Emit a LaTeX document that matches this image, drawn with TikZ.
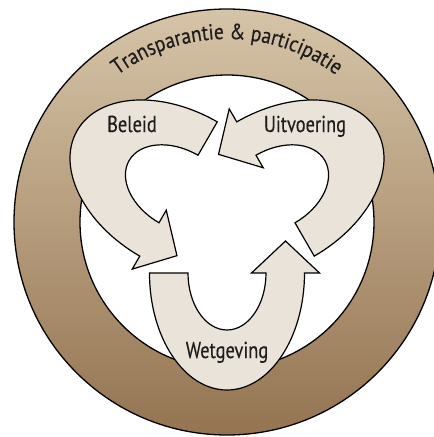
\documentclass[tikz,border=0pt]{standalone}
\usepackage{fontspec}
\usepackage{xcolor}
\usepackage{tikz}
\usetikzlibrary{decorations.text}
\newfontfamily\cyclefont[FakeStretch=0.8,FakeBold=0.3]{PT Sans}
\newfontfamily\ringface[FakeStretch=0.88,FakeBold=0.4]{PT Sans}
\newcommand{\ringfont}{\ringface\fontsize{22}{22}\selectfont}
\definecolor{ringtop}{RGB}{214,196,168}
\definecolor{ringbottom}{RGB}{148,116,81}
\definecolor{arrowfill}{RGB}{233,227,217}
\definecolor{inkcol}{RGB}{30,28,28}
\tikzset{
  ring edge/.style={draw=black,line width=1.3pt},
  cycle arrow/.style={draw=black,fill=arrowfill,line width=1.2pt,line join=miter},
  cycle label/.style={font=\cyclefont\fontsize{23}{23}\selectfont,text=inkcol,anchor=base,inner sep=0pt}
}

\begin{document}
\begin{tikzpicture}[x=1pt,y=1pt]
  \useasboundingbox (-227,-215) rectangle (207,222);
  \clip (-227,-215) rectangle (207,222);
  % ring
  \shade[top color=ringtop,bottom color=ringbottom] (0,0) circle[radius=213];
  \fill[white] (0,0) circle[radius=147];
  \draw[ring edge] (0,0) circle[radius=213];
  \draw[ring edge] (0,0) circle[radius=147];
  \path[decorate,decoration={text along path,text align=center,
      text={|\ringfont\color{inkcol}|Transparantie {\&} participatie}}]
    (150:183) arc[start angle=150,end angle=30,radius=183];
  % arrows
  \foreach \rot in {0,120,240}
    \draw[cycle arrow,shift={(0,5)},rotate=\rot]
      (-77.5,-56) -- (-39,-56)
      arc[start angle=180,end angle=360,x radius=39,y radius=57]
      -- (24.5,-56) -- (58.5,-24) -- (92.5,-56) -- (77.5,-56)
      arc[start angle=0,end angle=-180,x radius=77.5,y radius=117]
      -- cycle;
  \node[cycle label] (beleid) at (-95,90) {Beleid};
  \node[cycle label] (uitvoering) at (78,90) {Uitvoering};
  \node[cycle label] (wetgeving) at (0,-136) {Wetgeving};
\end{tikzpicture}
\end{document}
